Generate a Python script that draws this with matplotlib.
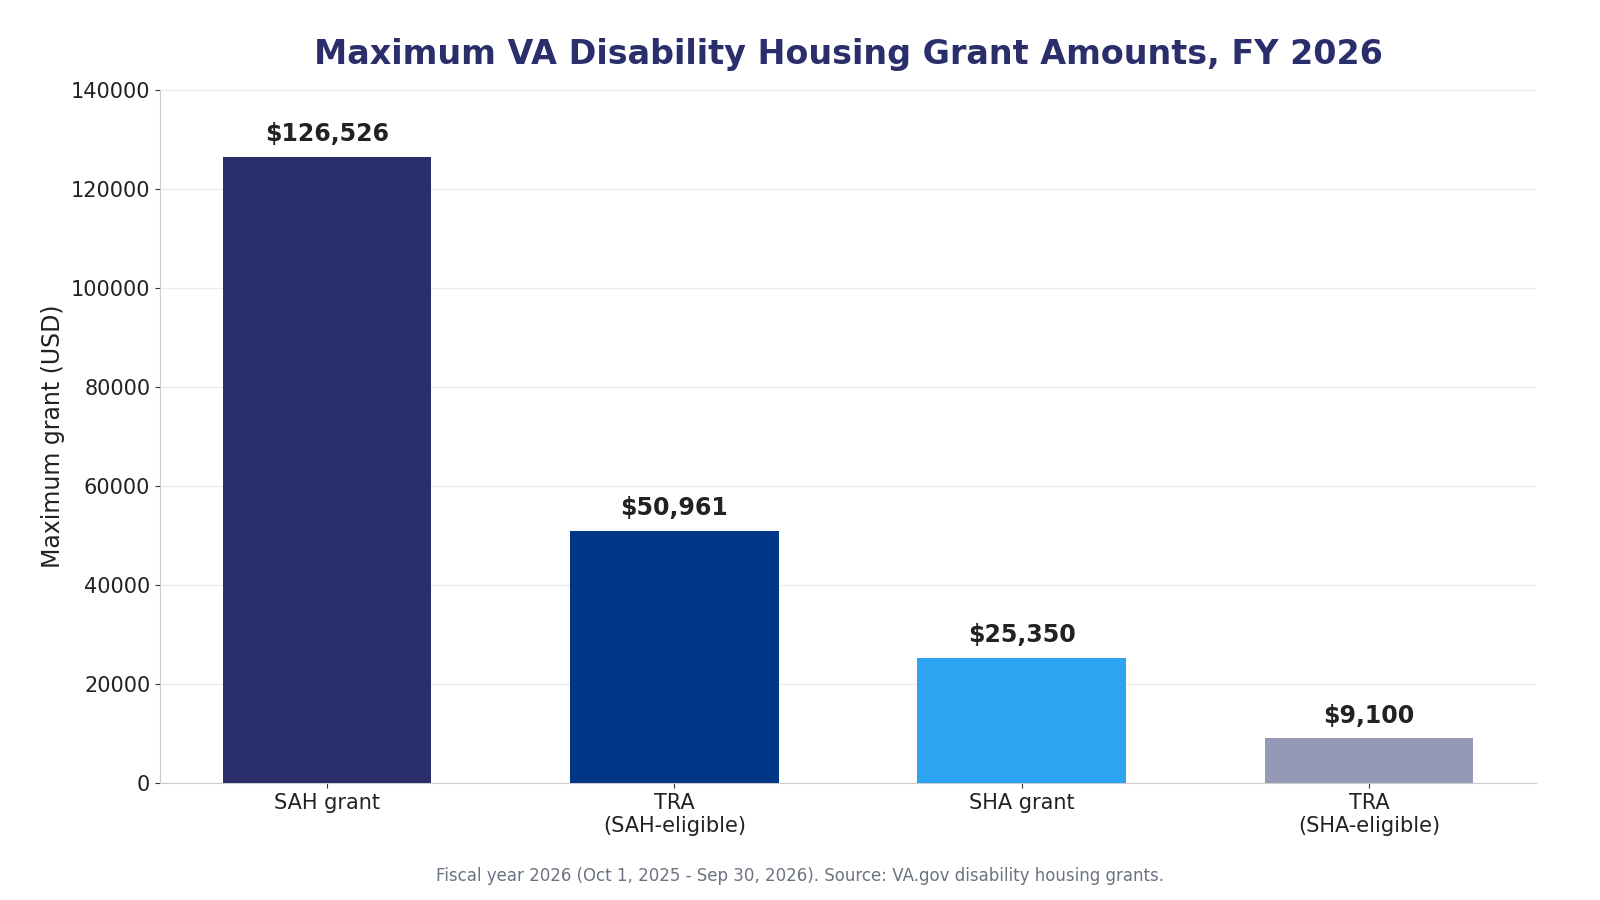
import matplotlib.pyplot as plt

categories = ["SAH grant", "TRA\n(SAH-eligible)", "SHA grant", "TRA\n(SHA-eligible)"]
amounts = [126526, 50961, 25350, 9100]
colors = ["#2a2f6b", "#003686", "#2ea3f2", "#949ab5"]

fig, ax = plt.subplots(figsize=(16, 9), dpi=100)
fig.subplots_adjust(left=0.100, right=0.960, top=0.900, bottom=0.130)

bars = ax.bar(range(len(amounts)), amounts, width=0.6, color=colors, zorder=3)
ax.set_xticks(range(len(amounts)))
ax.set_xticklabels(categories, fontsize=15, color="#222222")
ax.set_ylim(0, 140000)
ax.set_yticks(range(0, 140001, 20000))
ax.tick_params(axis="y", labelsize=15, colors="#222222")
ax.tick_params(axis="both", color="#333333")
ax.set_ylabel("Maximum grant (USD)", fontsize=17, color="#222222")

for b, v in zip(bars, amounts):
    ax.text(b.get_x() + b.get_width() / 2, v + 2100, "${:,}".format(v),
            ha="center", va="bottom", fontsize=17, fontweight="bold", color="#222222")

ax.grid(axis="y", color="#ececec", linewidth=1, zorder=0)
for s in ["top", "right"]:
    ax.spines[s].set_visible(False)
for s in ["left", "bottom"]:
    ax.spines[s].set_color("#cccccc")

ax.set_title("Maximum VA Disability Housing Grant Amounts, FY 2026",
             fontsize=24, fontweight="bold", color="#2a2f6b", pad=19)
fig.text(0.5, 0.021, "Fiscal year 2026 (Oct 1, 2025 - Sep 30, 2026). Source: VA.gov disability housing grants.",
         ha="center", fontsize=12, color="#6b7280")

plt.savefig("out.png")
